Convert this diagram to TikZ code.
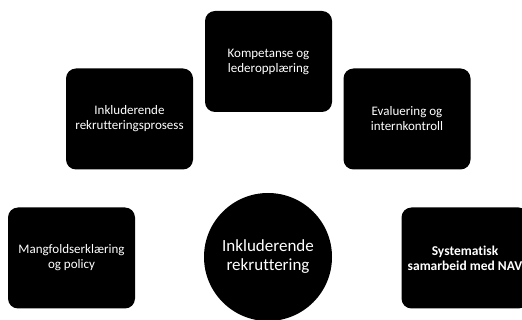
\documentclass[tikz,border=0pt]{standalone}
\usepackage{fontspec}
\setmainfont[Ligatures=NoCommon]{Carlito}
\usepackage{tikz}
\usetikzlibrary{shapes.geometric}

\begin{document}
\begin{tikzpicture}[x=1pt,y=-1pt,
		tema/.style={fill=black,text=white,rounded corners=10pt,minimum width=127pt,minimum height=101pt,inner sep=0pt,align=center,font=\fontsize{13}{15}\selectfont},
		kjerne/.style={circle,fill=black,text=white,minimum size=128pt,inner sep=0pt,align=center,font=\fontsize{17}{19}\selectfont}]
		\useasboundingbox (0,0) rectangle (522,320);
		\node[tema] (kompetanse) at (268.5,61.5) {Kompetanse og\\lederopplæring};
		\node[tema] (prosess) at (129.5,119) {Inkluderende\\rekrutteringsprosess};
		\node[tema] (evaluering) at (407,119) {Evaluering og\\internkontroll};
		\node[tema] (mangfold) at (71.5,258) {Mangfoldserklæring\\og policy};
		\node[tema,font=\fontsize{13.5}{15}\selectfont\bfseries] (nav) at (465,258) {Systematisk\\samarbeid med NAV};
		\node[kjerne] (sentrum) at (268,257) {Inkluderende\\rekruttering};
	\end{tikzpicture}
\end{document}
